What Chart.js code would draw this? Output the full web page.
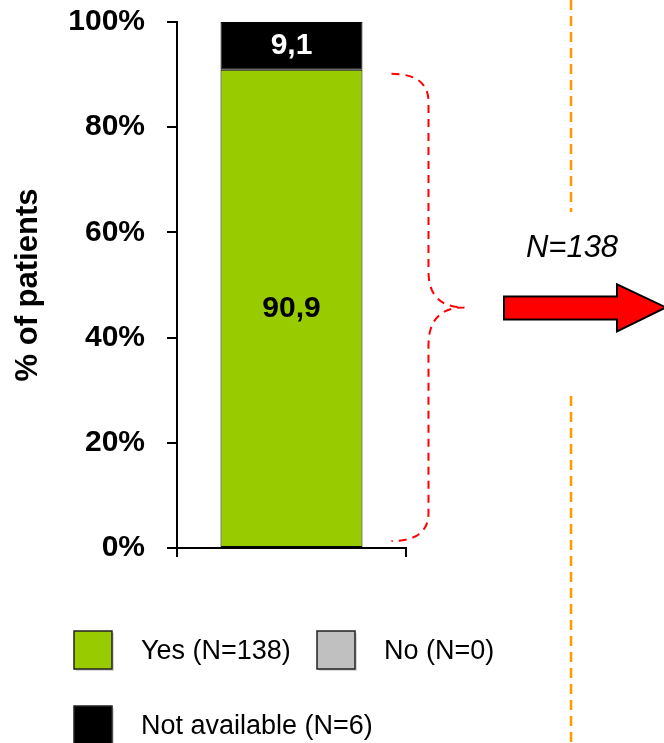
<!DOCTYPE html>
<html>
<head>
<meta charset="utf-8">
<script src="https://cdn.jsdelivr.net/npm/chart.js@4/dist/chart.umd.min.js"></script>
<style>
  body { margin: 0; background: #fff; }
  #wrap { width: 664px; height: 743px; position: relative; }
</style>
</head>
<body>
<div id="wrap"><canvas id="chart"></canvas></div>
<script>
// data (percent of patients)
const categories = [""];
const seriesLabels = ["Yes (N=138)", "No (N=0)", "Not available (N=6)"];
const yesValues = [90.9];
const noValues = [0];
const naValues = [9.1];
const valueText = ["90,9", "", "9,1"];
const yTicks = [0, 20, 40, 60, 80, 100];
const subsetLabel = "N=138";

const colors = ["#99CC00", "#C0C0C0", "#000000"];
const FONT = "'Liberation Sans', Arial, sans-serif";

// labels, brace, arrow, divider and legend
const extras = {
    id: "extras",
    afterDatasetsDraw(chart) {
        const ctx = chart.ctx;
        ctx.save();

        // value labels inside bars
        chart.data.datasets.forEach((ds, i) => {
            const bar = chart.getDatasetMeta(i).data[0];
            if (!valueText[i] || !ds.data[0]) return;
            ctx.font = "bold 30px " + FONT;
            ctx.fillStyle = i === 2 ? "#fff" : "#000";
            ctx.textAlign = "center";
            ctx.textBaseline = "middle";
            ctx.fillText(valueText[i], bar.x, (bar.y + bar.base) / 2);
        });

        // red dashed brace along the Yes segment
        const yes = chart.getDatasetMeta(0).data[0];
        const x0 = yes.x + yes.width / 2 + 29;
        const top = yes.y + 4, bot = yes.base - 6;
        const mid = (top + bot) / 2;
        const sx = x0 + 37, tx = x0 + 73, r = 28;
        ctx.strokeStyle = "#FF0000";
        ctx.lineWidth = 2;
        ctx.setLineDash([8, 6]);
        ctx.beginPath();
        ctx.moveTo(x0, top);
        ctx.quadraticCurveTo(sx, top, sx, top + r);
        ctx.lineTo(sx, mid - 36);
        ctx.quadraticCurveTo(sx, mid, tx, mid);
        ctx.quadraticCurveTo(sx, mid, sx, mid + 38);
        ctx.lineTo(sx, bot - r);
        ctx.quadraticCurveTo(sx, bot, x0, bot);
        ctx.stroke();

        // orange dashed divider
        ctx.strokeStyle = "#FF9900";
        ctx.lineWidth = 2.5;
        ctx.setLineDash([10, 6]);
        ctx.beginPath();
        ctx.moveTo(571, 0);
        ctx.lineTo(571, 212);
        ctx.moveTo(571, 396);
        ctx.lineTo(571, 743);
        ctx.stroke();
        ctx.setLineDash([]);

        // subset label
        ctx.font = "italic 31px " + FONT;
        ctx.fillStyle = "#000";
        ctx.textAlign = "center";
        ctx.textBaseline = "middle";
        ctx.fillText(subsetLabel, 572, 248);

        // red arrow
        ctx.fillStyle = "#FF0000";
        ctx.strokeStyle = "#000";
        ctx.lineWidth = 2;
        ctx.beginPath();
        ctx.moveTo(504, mid - 11);
        ctx.lineTo(617, mid - 11);
        ctx.lineTo(617, mid - 23);
        ctx.lineTo(666, mid);
        ctx.lineTo(617, mid + 24);
        ctx.lineTo(617, mid + 12);
        ctx.lineTo(504, mid + 12);
        ctx.closePath();
        ctx.fill();
        ctx.stroke();

        // legend
        const spots = [[74, 631], [317, 631], [74, 706]];
        ctx.font = "27px " + FONT;
        ctx.textAlign = "left";
        ctx.textBaseline = "middle";
        seriesLabels.forEach((lab, i) => {
            const [lx, ly] = spots[i];
            ctx.fillStyle = "#d8d8d8";
            ctx.fillRect(lx + 2, ly + 2, 38, 38);
            ctx.fillStyle = colors[i];
            ctx.fillRect(lx, ly, 38, 38);
            ctx.strokeStyle = "#222";
            ctx.lineWidth = 1.5;
            ctx.strokeRect(lx, ly, 38, 38);
            ctx.fillStyle = "#000";
            ctx.fillText(lab, lx + 67, ly + 21);
        });

        ctx.restore();
    }
};

new Chart(document.getElementById("chart"), {
    type: "bar",
    data: {
        labels: categories,
        datasets: [
            { label: seriesLabels[0], data: yesValues, backgroundColor: colors[0] },
            { label: seriesLabels[1], data: noValues, backgroundColor: colors[1] },
            { label: seriesLabels[2], data: naValues, backgroundColor: colors[2] }
        ].map(ds => Object.assign(ds, {
            borderColor: "#000",
            borderWidth: 1,
            borderSkipped: false,
            categoryPercentage: 1,
            barPercentage: 0.62
        }))
    },
    options: {
        responsive: true,
        maintainAspectRatio: false,
        animation: false,
        layout: { padding: { left: 0, right: 258, top: 22, bottom: 0 } },
        plugins: { legend: { display: false }, tooltip: { enabled: false } },
        scales: {
            x: {
                stacked: true,
                ticks: { display: false },
                grid: { offset: true, drawOnChartArea: false, drawTicks: true, tickLength: 9, color: "#000", lineWidth: 2 },
                border: { display: true, color: "#000", width: 2 },
                afterFit: s => { s.height = 195; }
            },
            y: {
                stacked: true,
                min: 0,
                max: 100,
                afterBuildTicks: s => { s.ticks = yTicks.map(v => ({ value: v })); },
                ticks: {
                    callback: v => v + "%",
                    color: "#000",
                    font: { family: FONT, size: 30, weight: "bold" },
                    padding: 22
                },
                grid: { drawOnChartArea: false, drawTicks: true, tickLength: 10, color: "#000", lineWidth: 2 },
                border: { display: true, color: "#000", width: 2 },
                title: {
                    display: true,
                    text: "% of patients",
                    color: "#000",
                    font: { family: FONT, size: 31, weight: "bold" },
                    padding: { top: 10, bottom: 0 }
                },
                afterFit: s => {
                    s.width = 177;
                    s.paddingTop = 0;
                    s.paddingBottom = 0;
                }
            }
        }
    },
    plugins: [extras]
});
</script>
</body>
</html>
